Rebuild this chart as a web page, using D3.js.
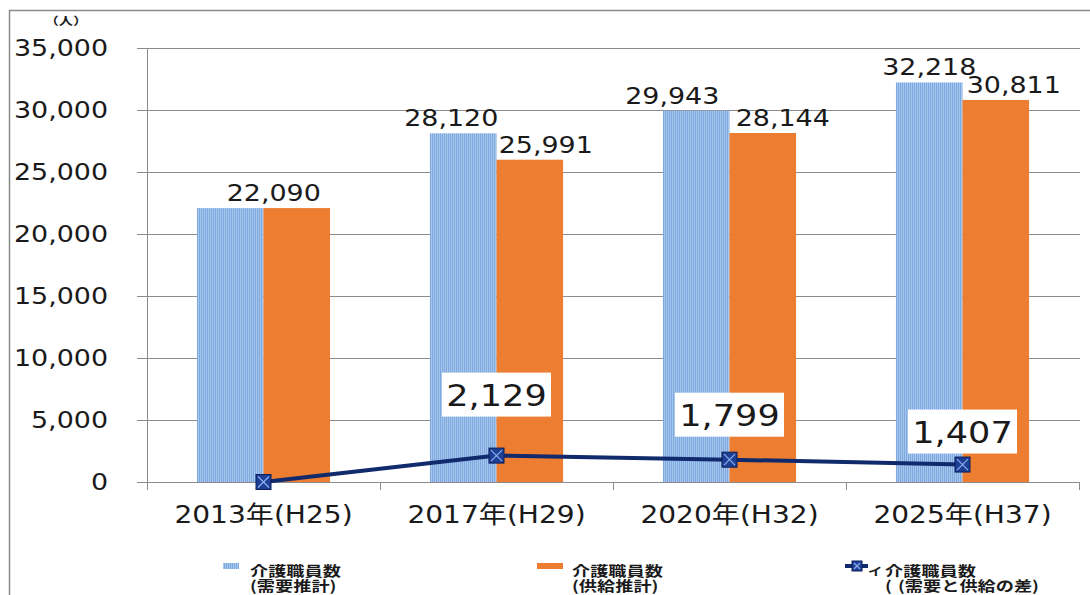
<!DOCTYPE html>
<html>
<head>
<meta charset="utf-8">
<script src="https://cdn.jsdelivr.net/npm/d3@7"></script>
<style>
  body { margin: 0; background: #fff; }
  svg { display: block; }
  text { font-family: "DejaVu Sans", "Noto Sans CJK JP", sans-serif; fill: #1a1a1a; }
  .jp { font-family: "Noto Sans CJK JP", sans-serif; font-weight: 700; }
</style>
</head>
<body>
<div id="chart"></div>
<script>
const categories = ['2013年(H25)', '2017年(H29)', '2020年(H32)', '2025年(H37)']
const demand = [22090, 28120, 29943, 32218]   // 需要推計
const supply = [22090, 25991, 28144, 30811]   // 供給推計
const gap = [0, 2129, 1799, 1407]             // 需要と供給の差
const yTicks = [0, 5000, 10000, 15000, 20000, 25000, 30000, 35000]

// label nudges (px), null = no label
const demandLabelDx = [null, -12, -24, 0]
const supplyLabelDx = [-23, 16, 20, 18]
const gapLabelDy = [null, -61, -45, -33]

const W = 1090, H = 595
const SX = 1.17 // the picture is a bit stretched sideways
const fmt = d3.format(',')

const svg = d3.select('#chart').append('svg')
  .attr('width', W)
  .attr('height', H)

// blue bar fill: fine vertical hatch
const pat = svg.append('defs').append('pattern')
  .attr('id', 'hatch')
  .attr('patternUnits', 'userSpaceOnUse')
  .attr('width', 2)
  .attr('height', 2)
pat.append('rect').attr('width', 2).attr('height', 2).attr('fill', '#a6c6ee')
pat.append('rect').attr('width', 1).attr('height', 2).attr('fill', '#7ea9df')

// outer frame
svg.append('path')
  .attr('d', `M9.5,${H} V10.5 H${W}`)
  .attr('fill', 'none')
  .attr('stroke', '#8a8a8a')
  .attr('stroke-width', 1.5)

const x0 = d3.scaleBand().domain(categories).range([147, 1079])
const x1 = d3.scaleBand().domain(['demand', 'supply'])
  .range([0, x0.bandwidth()]).paddingOuter(0.75)
const y = d3.scaleLinear().domain([0, 35000]).range([482, 48])

// y grid + labels
svg.append('g')
  .attr('transform', 'translate(137,0)')
  .call(d3.axisLeft(y).tickValues(yTicks).tickFormat(fmt)
    .tickSize(-(1080 - 137)).tickPadding(29))
  .call(g => g.select('.domain').remove())
  .call(g => g.selectAll('line').attr('stroke', '#8c8c8c'))
  .call(g => g.selectAll('text')
    .attr('font-size', 23)
    .attr('transform', `scale(${SX},1)`)
    .attr('x', -29 / SX))

// y axis line
svg.append('line')
  .attr('x1', 147.5).attr('x2', 147.5)
  .attr('y1', y(35000)).attr('y2', y(0) + 8)
  .attr('stroke', '#8c8c8c')

// category tick marks
svg.append('g').selectAll('line')
  .data(categories.slice(1).map(c => x0(c)).concat([x0.range()[1]]))
  .join('line')
  .attr('x1', d => Math.round(d) + 0.5).attr('x2', d => Math.round(d) + 0.5)
  .attr('y1', y(0)).attr('y2', y(0) + 8)
  .attr('stroke', '#8c8c8c')

// category labels
svg.append('g')
  .attr('transform', `translate(0,${y(0)})`)
  .call(d3.axisBottom(x0).tickSize(0).tickPadding(24))
  .call(g => g.select('.domain').remove())
  .call(g => g.selectAll('text')
    .attr('font-size', 24)
    .attr('transform', `scale(${SX},1)`))

// unit
svg.append('g')
  .attr('transform', 'translate(66,25)')
  .append('text')
  .attr('class', 'jp')
  .attr('text-anchor', 'middle')
  .attr('font-size', 11)
  .attr('font-weight', 400)
  .attr('transform', 'scale(1.3,1)')
  .text('（人）')

// bars
const groups = svg.append('g').selectAll('g')
  .data(categories)
  .join('g')
  .attr('transform', d => `translate(${x0(d)},0)`)

groups.append('rect')
  .attr('x', x1('demand'))
  .attr('width', x1.bandwidth())
  .attr('y', (d, i) => y(demand[i]))
  .attr('height', (d, i) => y(0) - y(demand[i]))
  .attr('fill', 'url(#hatch)')

groups.append('rect')
  .attr('x', x1('supply'))
  .attr('width', x1.bandwidth())
  .attr('y', (d, i) => y(supply[i]))
  .attr('height', (d, i) => y(0) - y(supply[i]))
  .attr('fill', '#ed7d31')

// bar value labels
function scaledText (parent, x, yy, str, size) {
  return parent.append('g')
    .attr('transform', `translate(${x},${yy})`)
    .append('text')
    .attr('text-anchor', 'middle')
    .attr('font-size', size)
    .attr('transform', `scale(${SX},1)`)
    .text(str)
}

const labels = svg.append('g')
categories.forEach((c, i) => {
  if (demandLabelDx[i] !== null) {
    scaledText(labels, x0(c) + x1('demand') + x1.bandwidth() / 2 + demandLabelDx[i],
      y(demand[i]) - 7, fmt(demand[i]), 23)
  }
  if (supplyLabelDx[i] !== null) {
    scaledText(labels, x0(c) + x1('supply') + x1.bandwidth() / 2 + supplyLabelDx[i],
      y(supply[i]) - 7, fmt(supply[i]), 23)
  }
})

// gap line
const cx = c => x0(c) + x0.bandwidth() / 2
const line = d3.line()
  .x((d, i) => cx(categories[i]))
  .y(d => y(d))

svg.append('path')
  .attr('d', line(gap))
  .attr('fill', 'none')
  .attr('stroke', '#102a6c')
  .attr('stroke-width', 4)

function marker (parent, x, yy, s) {
  const g = parent.append('g').attr('transform', `translate(${x},${yy})`)
  g.append('rect')
    .attr('x', -s / 2).attr('y', -s / 2)
    .attr('width', s).attr('height', s)
    .attr('fill', '#1d3f95')
    .attr('stroke', '#0c1f5a')
    .attr('stroke-width', 1)
  g.append('path')
    .attr('d', `M${-s / 2 + 2},${-s / 2 + 2}L${s / 2 - 2},${s / 2 - 2}M${s / 2 - 2},${-s / 2 + 2}L${-s / 2 + 2},${s / 2 - 2}`)
    .attr('stroke', '#8fb0ee')
    .attr('stroke-width', 1.2)
}

const marks = svg.append('g')
gap.forEach((v, i) => marker(marks, cx(categories[i]), y(v), 15))

// gap labels in white boxes
const gapLabels = svg.append('g')
gap.forEach((v, i) => {
  if (gapLabelDy[i] === null) return
  const gx = cx(categories[i])
  const gy = y(v) + gapLabelDy[i]
  gapLabels.append('rect')
    .attr('x', gx - 54.5).attr('y', gy - 22)
    .attr('width', 109).attr('height', 44)
    .attr('fill', '#fff')
  scaledText(gapLabels, gx, gy + 11, fmt(v), 30)
})

// legend (one text element per entry, lines as tspans)
const LSX = 1.3
const lg = svg.append('g')
function legendText (x, parts) {
  const t = lg.append('g')
    .attr('transform', `translate(${x},576)`)
    .append('text')
    .attr('class', 'jp')
    .attr('font-size', 14)
    .attr('fill', '#333')
    .attr('transform', `scale(${LSX},1)`)
  parts.forEach(p => {
    t.append('tspan')
      .attr('x', p.dx / LSX)
      .attr('y', p.dy)
      .attr('font-size', p.size || 14)
      .text(p.s)
  })
}

lg.append('rect').attr('x', 223).attr('y', 563).attr('width', 16).attr('height', 6)
  .attr('fill', 'url(#hatch)')
legendText(250, [{ s: '介護職員数', dx: 0, dy: 0 }, { s: '(需要推計)', dx: 0, dy: 15 }])

lg.append('rect').attr('x', 537).attr('y', 563).attr('width', 26).attr('height', 6)
  .attr('fill', '#ed7d31')
legendText(572, [{ s: '介護職員数', dx: 0, dy: 0 }, { s: '(供給推計)', dx: 0, dy: 15 }])

lg.append('line')
  .attr('x1', 845).attr('x2', 868).attr('y1', 566).attr('y2', 566)
  .attr('stroke', '#102a6c').attr('stroke-width', 4)
marker(lg, 857, 566, 10)
legendText(868, [
  { s: 'イ', dx: 0, dy: 0, size: 11 },
  { s: '介護職員数', dx: 17, dy: 0 },
  { s: '(', dx: 17, dy: 15 },
  { s: '(需要と供給の差)', dx: 30, dy: 15 }
])
</script>
</body>
</html>
